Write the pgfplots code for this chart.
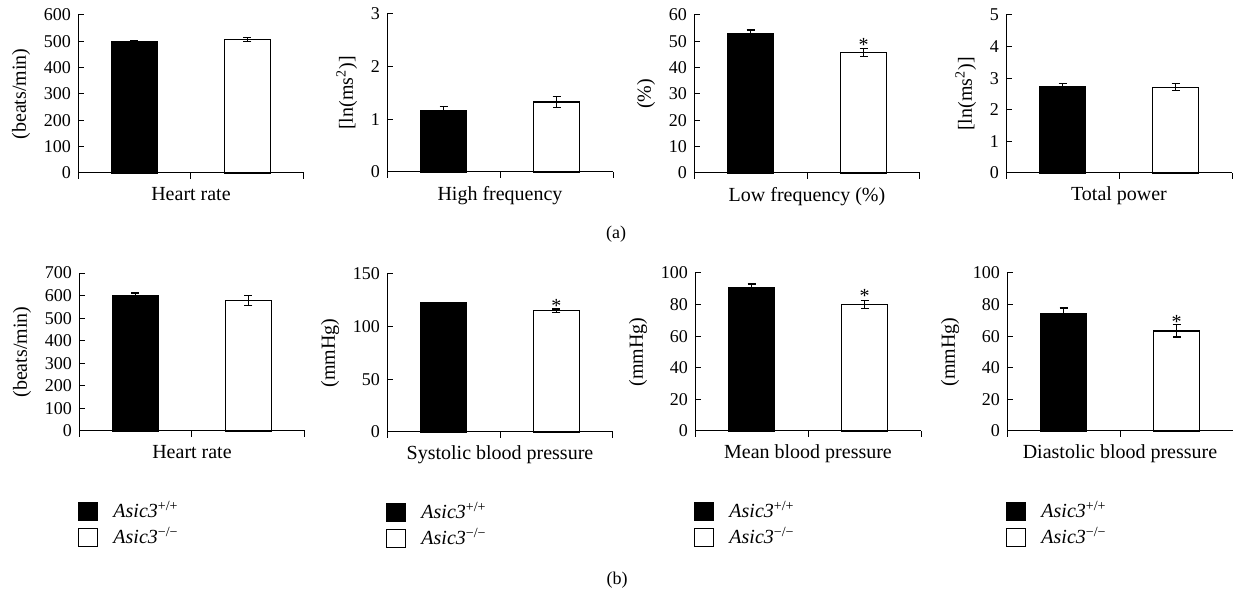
\documentclass[border=0pt]{standalone}
\usepackage{fontspec}
\setmainfont{Liberation Serif}
\usepackage{pgfplots}
\pgfplotsset{compat=1.18}
\pgfplotsset{
  myax/.style={
    scale only axis, width=113pt, height=79pt,
    anchor=south west, clip=false,
    axis lines=left, axis line style={-, line width=0.5pt},
    xmin=-0.5, xmax=1.5, xtick={-0.5,0.5,1.5}, xticklabels={},
    tick align=inside, major tick length=3pt,
    tick style={black, line width=0.5pt},
    ymin=0,
    ybar, bar width=23pt,
    ticklabel style={font=\fontsize{9}{10}\selectfont},
    label style={font=\fontsize{10}{12}\selectfont},
    /pgf/number format/assume math mode=true,
    xlabel style={at={(axis description cs:0.5,0)}, anchor=north, yshift=-3.5pt},
    error bars/y dir=both, error bars/y explicit,
    error bars/error bar style={black, line width=0.6pt},
    error bars/error mark options={black, line width=0.6pt, mark size=2pt, rotate=90},
  },
  blk/.style={fill=black, draw=black, line width=0.6pt, bar shift=0pt},
  wht/.style={fill=white, draw=black, line width=0.7pt, bar shift=0pt},
  myleg/.style={
    legend image code/.code={\draw[##1, line width=0.6pt] (0pt,-4.25pt) rectangle (9.5pt,4.75pt);},
    legend style={at={(axis description cs:-0.005,-0.445)}, anchor=north west,
      draw=none, fill=none, font=\fontsize{10}{12}\selectfont,
      inner xsep=0pt, inner ysep=0pt,
      nodes={inner sep=0pt, text height=8pt, text depth=2pt},
      row sep=3pt, cells={anchor=west},
      /tikz/every odd column/.append style={column sep=7.5pt}},
  },
}
\newcommand{\sigstar}[1]{\node[font=\fontsize{10}{12}\selectfont, yshift=-2pt] at (axis cs:1,#1) {*};}
\begin{document}
\begin{tikzpicture}
\path[use as bounding box] (0,0) rectangle (616.5pt,-296pt);
% Row (a)
\begin{axis}[myax, at={(39pt,-86.5pt)}, ymax=600, ytick={0,100,...,600},
  ylabel={(beats/min)}, xlabel={Heart rate}]
\addplot[blk] coordinates {(0,500) +- (0,3)};
\addplot[wht] coordinates {(1,507) +- (0,7)};
\end{axis}
\begin{axis}[myax, at={(193.5pt,-86pt)}, ymax=3, ytick={0,1,2,3},
  ylabel={[ln(ms\textsuperscript{2})]}, xlabel={High frequency}]
\addplot[blk] coordinates {(0,1.17) +- (0,0.08)};
\addplot[wht] coordinates {(1,1.33) +- (0,0.10)};
\end{axis}
\begin{axis}[myax, at={(347pt,-86.5pt)}, ymax=60, ytick={0,10,...,60},
  ylabel={(\%)}, xlabel={Low frequency (\%)}]
\addplot[blk] coordinates {(0,52.8) +- (0,1.5)};
\addplot[wht] coordinates {(1,45.8) +- (0,1.6)};
\sigstar{50.3}
\end{axis}
\begin{axis}[myax, at={(503pt,-86.5pt)}, ymax=5, ytick={0,1,...,5},
  ylabel={[ln(ms\textsuperscript{2})]}, xlabel={Total power}]
\addplot[blk] coordinates {(0,2.72) +- (0,0.12)};
\addplot[wht] coordinates {(1,2.71) +- (0,0.11)};
\end{axis}
\node[font=\fontsize{9}{11}\selectfont] at (308pt,-117pt) {(a)};
% Row (b)
\begin{axis}[myax, myleg, at={(39.5pt,-215.5pt)}, ymax=700, ytick={0,100,...,700},
  ylabel={(beats/min)}, xlabel={Heart rate}]
\addplot[blk] coordinates {(0,598) +- (0,13)};
\addplot[wht] coordinates {(1,577) +- (0,22)};
\legend{\textit{Asic3}\textsuperscript{+/+}, \textit{Asic3}\textsuperscript{−/−}}
\end{axis}
\begin{axis}[myax, myleg, at={(193.5pt,-216pt)}, ymax=150, ytick={0,50,100,150},
  ylabel={(mmHg)}, xlabel={Systolic blood pressure}]
\addplot[blk] coordinates {(0,122.7) +- (0,0.6)};
\addplot[wht] coordinates {(1,115.1) +- (0,1.7)};
\sigstar{123}
\legend{\textit{Asic3}\textsuperscript{+/+}, \textit{Asic3}\textsuperscript{−/−}}
\end{axis}
\begin{axis}[myax, myleg, at={(347.5pt,-215.5pt)}, ymax=100, ytick={0,20,...,100},
  ylabel={(mmHg)}, xlabel={Mean blood pressure}]
\addplot[blk] coordinates {(0,90.5) +- (0,2.5)};
\addplot[wht] coordinates {(1,80.1) +- (0,2.7)};
\sigstar{88}
\legend{\textit{Asic3}\textsuperscript{+/+}, \textit{Asic3}\textsuperscript{−/−}}
\end{axis}
\begin{axis}[myax, myleg, at={(503.5pt,-215.5pt)}, ymax=100, ytick={0,20,...,100},
  ylabel={(mmHg)}, xlabel={Diastolic blood pressure}]
\addplot[blk] coordinates {(0,74.6) +- (0,3.2)};
\addplot[wht] coordinates {(1,63.4) +- (0,3.9)};
\sigstar{71.5}
\legend{\textit{Asic3}\textsuperscript{+/+}, \textit{Asic3}\textsuperscript{−/−}}
\end{axis}
\node[font=\fontsize{9}{11}\selectfont] at (308.5pt,-290pt) {(b)};
\end{tikzpicture}
\end{document}
